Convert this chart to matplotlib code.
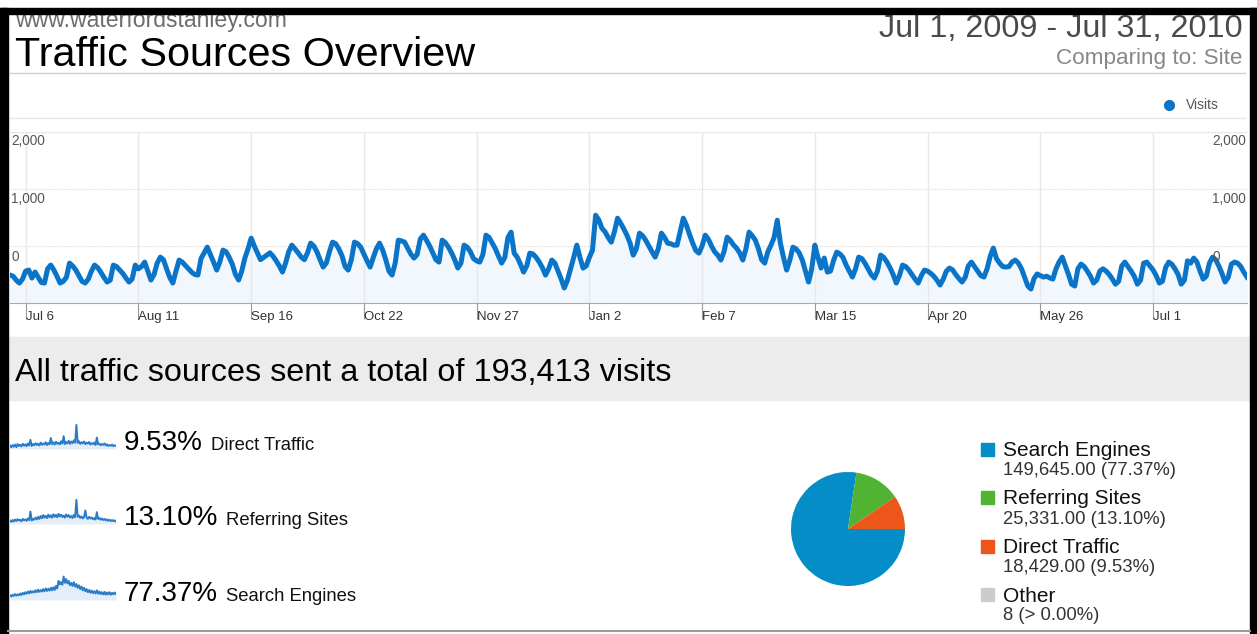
import matplotlib
matplotlib.use('Agg')
import matplotlib.pyplot as plt
import matplotlib.transforms as mtransforms
from matplotlib.patches import Rectangle
import numpy as np

plt.rcParams['font.family'] = ['Liberation Sans', 'DejaVu Sans']

W, H = 1257, 634

site = 'www.waterfordstanley.com'
title = 'Traffic Sources Overview'
date_range = 'Jul 1, 2009 - Jul 31, 2010'
comparing = 'Comparing to: Site'

# daily visits, Wed Jul 1 2009 .. Sat Jul 31 2010 (one row per Mon-Sun week)
visits = [
    490, 470, 400, 350, 420,
    560, 578, 438, 543, 450, 360, 350,
    600, 665, 580, 470, 350, 380, 450,
    700, 650, 580, 480, 380, 350, 420,
    560, 665, 620, 540, 450, 368, 400,
    665, 640, 580, 520, 440, 368, 420,
    665, 600, 640, 718, 560, 403, 500,
    700, 805, 760, 600, 450, 350, 560,
    753, 718, 660, 600, 540, 500, 490,
    780, 880, 980, 850, 720, 578, 720,
    928, 900, 800, 680, 500, 403, 560,
    788, 950, 1138, 1000, 880, 760, 800,
    840, 880, 820, 740, 650, 543, 700,
    900, 1015, 950, 880, 805, 760, 880,
    1050, 1000, 900, 760, 630, 700, 900,
    1068, 1040, 950, 830, 640, 578, 760,
    1068, 1040, 980, 860, 740, 630, 800,
    950, 1050, 928, 760, 560, 490, 700,
    1103, 1090, 1068, 960, 860, 788, 850,
    1120, 1190, 1100, 1000, 880, 760, 718,
    1103, 1060, 980, 880, 760, 613, 700,
    1015, 980, 900, 780, 740, 718, 850,
    1190, 1150, 1050, 950, 820, 700, 800,
    1150, 1243, 875, 800, 680, 543, 650,
    875, 860, 800, 720, 620, 490, 600,
    753, 700, 560, 420, 263, 400, 600,
    800, 1015, 800, 613, 650, 800, 928,
    1540, 1460, 1313, 1250, 1150, 1068, 1250,
    1488, 1400, 1300, 1190, 1050, 840, 950,
    1225, 1180, 1100, 1000, 900, 805, 950,
    1225, 1150, 1050, 1040, 1015, 1015, 1250,
    1488, 1365, 1200, 1050, 920, 875, 1000,
    1190, 1120, 1000, 900, 840, 753, 900,
    1155, 1100, 1020, 963, 880, 753, 950,
    1243, 1180, 1103, 950, 760, 700, 900,
    1015, 1150, 1453, 1050, 800, 578, 750,
    980, 950, 880, 753, 560, 368, 600,
    1015, 800, 613, 788, 543, 560, 750,
    893, 860, 800, 665, 560, 455, 600,
    805, 780, 700, 600, 500, 438, 560,
    840, 800, 720, 620, 500, 350, 480,
    665, 640, 580, 500, 420, 350, 480,
    578, 560, 520, 470, 400, 315, 420,
    560, 613, 580, 500, 430, 368, 450,
    650, 718, 640, 560, 480, 455, 600,
    820, 963, 780, 700, 640, 630, 640,
    720, 753, 700, 600, 450, 300, 245,
    430, 510, 480, 455, 470, 440, 420,
    600, 720, 805, 650, 500, 330, 298,
    600, 683, 640, 560, 470, 350, 400,
    560, 600, 560, 500, 420, 330, 380,
    650, 718, 640, 560, 470, 330, 400,
    700, 718, 650, 580, 480, 350, 380,
    620, 718, 680, 600, 500, 330, 400,
    740, 700, 788, 720, 560, 420, 470,
    700, 805, 760, 650, 520, 368, 450,
    680, 718, 700, 640, 540, 455,
]
start = np.datetime64('2009-07-01')
days = start + np.arange(len(visits))

tick_dates = np.array(['2009-07-06', '2009-08-11', '2009-09-16', '2009-10-22',
                       '2009-11-27', '2010-01-02', '2010-02-07', '2010-03-15',
                       '2010-04-20', '2010-05-26', '2010-07-01'], dtype='datetime64[D]')
tick_labels = ['Jul 6', 'Aug 11', 'Sep 16', 'Oct 22', 'Nov 27', 'Jan 2',
               'Feb 7', 'Mar 15', 'Apr 20', 'May 26', 'Jul 1']
y_labels = ['2,000', '1,000', '0']

sources = ['Search Engines', 'Referring Sites', 'Direct Traffic', 'Other']
source_visits = [149645, 25331, 18429, 8]
source_colors = ['#058dc7', '#50b432', '#ed561b', '#cccccc']
total = sum(source_visits)

# small trend lines next to the percentages
spark_direct = [38, 30, 40, 33, 42, 31, 44, 36, 41, 34, 45, 37, 43, 35, 47, 38, 62, 36,
                44, 39, 48, 40, 46, 38, 50, 41, 47, 42, 52, 40, 49, 43, 70, 44, 51, 42,
                54, 45, 50, 43, 56, 46, 78, 44, 53, 47, 58, 45, 55, 48, 60, 50, 126, 49,
                56, 45, 52, 47, 55, 44, 50, 46, 53, 42, 48, 44, 51, 40, 72, 43, 46, 39,
                44, 41, 47, 38, 43, 36, 40, 37, 42, 35, 39, 36]
spark_referring = [52, 46, 55, 48, 57, 50, 59, 52, 56, 49, 60, 53, 58, 51, 62, 54, 95, 52,
                   61, 56, 66, 58, 70, 60, 74, 63, 78, 66, 75, 64, 80, 68, 77, 66, 82, 70,
                   79, 68, 84, 72, 80, 69, 76, 66, 81, 70, 78, 67, 74, 64, 79, 68, 150, 70,
                   76, 65, 72, 62, 69, 100, 66, 60, 70, 62, 67, 58, 64, 57, 92, 60, 65, 56,
                   62, 55, 60, 53, 58, 51, 56, 50, 55, 49, 53, 48]
spark_search = [300, 260, 320, 280, 340, 290, 330, 300, 360, 310, 380, 330, 400, 350, 420,
                360, 440, 380, 430, 390, 460, 400, 480, 410, 470, 420, 500, 430, 520, 440,
                510, 450, 540, 460, 560, 470, 600, 520, 760, 650, 720, 640, 900, 700, 820,
                680, 760, 620, 700, 600, 720, 580, 660, 540, 620, 500, 580, 460, 540, 430,
                500, 400, 470, 380, 450, 370, 430, 360, 460, 350, 420, 340, 400, 330, 410,
                320, 390, 330, 400, 320, 380, 330, 390, 340]

LINE = '#0a74c8'


def box(x0, y0, x1, y1):
    return [x0 / W, 1 - y1 / H, (x1 - x0) / W, (y1 - y0) / H]


fig = plt.figure(figsize=(W / 100, H / 100), dpi=100)

# page background, drawn in pixel coordinates
bg = fig.add_axes([0, 0, 1, 1])
bg.set_xlim(0, W)
bg.set_ylim(H, 0)
bg.axis('off')

bg.text(15, 27, site, fontsize=16.6, color='#6d6d6d', va='baseline')
bg.text(15, 66, title, fontsize=29.8, color='black', va='baseline')
bg.text(1243, 37, date_range, fontsize=23.3, color='#4a4a4a', ha='right', va='baseline')
bg.text(1243, 64, comparing, fontsize=16.2, color='#888888', ha='right', va='baseline')
bg.plot([10, 1245], [73, 73], color='#cfcfcf', lw=1)
bg.plot([10, 1245], [118, 118], color='#e6e6e6', lw=1)
bg.plot(1169, 105, 'o', ms=7, color=LINE)
bg.text(1186, 105, 'Visits', fontsize=10, color='#555555', va='center')

# frame
bg.add_patch(Rectangle((0, 8), W, 6, color='black', zorder=5))
bg.add_patch(Rectangle((0, 8), 8, H - 8, color='black', zorder=5))
bg.add_patch(Rectangle((1250, 8), 7, H - 8, color='black', zorder=5))
bg.plot([8, 1250], [631, 631], color='#9a9a9a', lw=1.5, zorder=5)

# total banner
bg.add_patch(Rectangle((8, 337), 1242, 63, color='#ececec', zorder=1))
bg.text(15, 381, f'All traffic sources sent a total of {total:,} visits',
        fontsize=23.3, color='black', va='baseline', zorder=2)

# main visits chart
ax = fig.add_axes(box(10, 132, 1247, 303))
ax.fill_between(days, visits, 0, color='#f1f7fc', lw=0, zorder=1)
ax.plot(days, visits, color=LINE, lw=3.6, solid_joinstyle='round', zorder=3)
ax.set_xlim(days[0], days[-1])
ax.set_ylim(0, 3000)
ax.set_yticks([])
ax.set_xticks(tick_dates)
ax.set_xticklabels(tick_labels, ha='left', fontsize=9.5, color='#333333')
for lbl in ax.get_xticklabels():
    lbl.set_transform(lbl.get_transform() +
                      mtransforms.ScaledTranslation(5 / 100, 0, fig.dpi_scale_trans))
ax.tick_params(axis='x', length=11.5, width=0.8, color='#999999', pad=-5.5)
ax.grid(axis='x', color='#e8e8e8', lw=1)
ax.axhline(1000, color='#dcdcdc', lw=0.8, ls=(0, (1, 1)), zorder=0)
ax.axhline(2000, color='#dcdcdc', lw=0.8, ls=(0, (1, 1)), zorder=0)
ax.axhline(3000, color='#e8e8e8', lw=1, zorder=0)
for s in ['top', 'left', 'right']:
    ax.spines[s].set_visible(False)
ax.spines['bottom'].set_color('#aaaaaa')
ax.patch.set_alpha(0)
for lab, fy in zip(y_labels, [0.947, 0.608, 0.269]):
    ax.text(0.001, fy, lab, transform=ax.transAxes, fontsize=9.8, color='#555555', va='center')
    ax.text(0.972, fy, lab, transform=ax.transAxes, fontsize=9.8, color='#555555', va='center')

# per-source rows: sparkline, share and name
rows = [
    (spark_direct, 'Direct Traffic', 18429, 424, 211, (23, 130)),
    (spark_referring, 'Referring Sites', 25331, 499, 226, (36, 154)),
    (spark_search, 'Search Engines', 149645, 575, 226, (150, 950)),
]
for series, name, val, top, name_x, lims in rows:
    sa = fig.add_axes(box(10, top, 116, top + 25))
    xs = np.arange(len(series))
    sa.fill_between(xs, series, lims[0], color='#e3eef9', lw=0)
    sa.plot(xs, series, color='#2a7bc8', lw=1.4)
    sa.set_xlim(0, len(series) - 1)
    sa.set_ylim(*lims)
    sa.axis('off')
    base = top + 26
    bg.text(124, base, f'{val / total * 100:.2f}%', fontsize=20, color='black', va='baseline')
    bg.text(name_x, base, name, fontsize=13.3, color='#111111', va='baseline')

# share pie
pa = fig.add_axes(box(791, 472, 905, 586))
pa.pie(source_visits, colors=source_colors, startangle=0, counterclock=False,
       wedgeprops=dict(linewidth=0))
pa.set_xlim(-1, 1)
pa.set_ylim(-1, 1)

# pie legend
for i, (name, val, col) in enumerate(zip(sources, source_visits, source_colors)):
    cy = 449 + i * 48.5
    bg.add_patch(Rectangle((981, cy - 6.5), 13, 13, color=col))
    bg.text(1003, cy + 7, name, fontsize=15, color='#111111', va='baseline')
    share = val / total * 100
    if share < 0.005:
        vtxt = f'{val:,} (> 0.00%)'
    else:
        vtxt = f'{val:,.2f} ({share:.2f}%)'
    bg.text(1003, cy + 26, vtxt, fontsize=13.3, color='#333333', va='baseline')

fig.savefig('out.png', dpi=100)
